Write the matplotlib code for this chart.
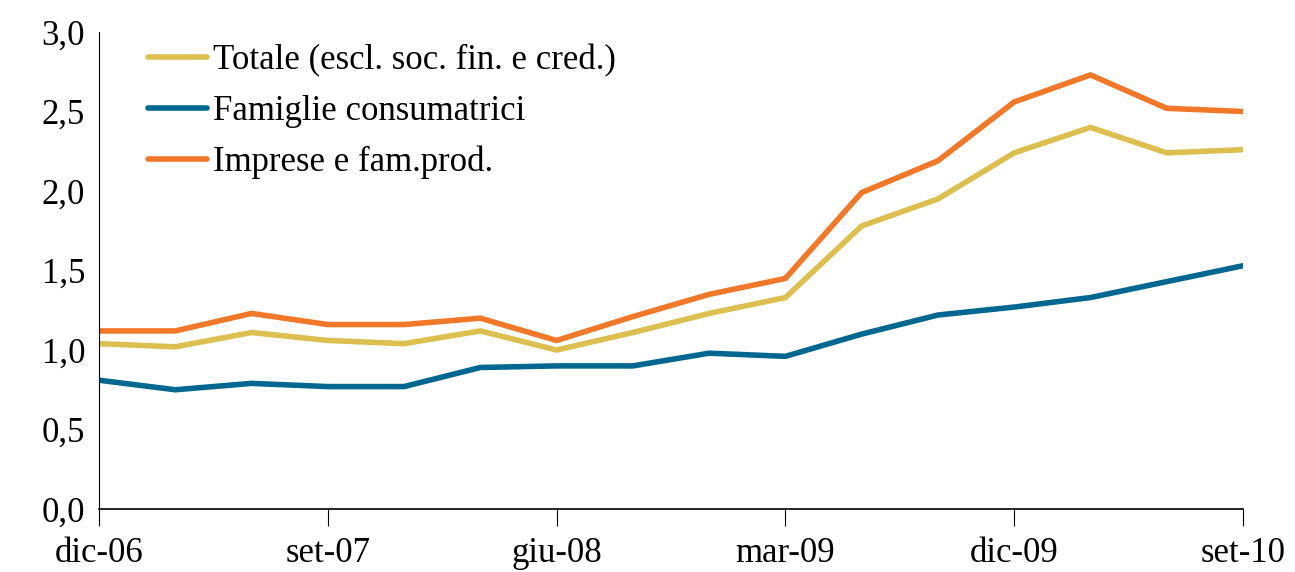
import matplotlib
matplotlib.use("Agg")
import matplotlib.pyplot as plt
import numpy as np

plt.rcParams["font.family"] = ["Liberation Serif", "DejaVu Serif"]

# quarterly observations, dic-06 .. set-10
quarters = ["dic-06", "mar-07", "giu-07", "set-07", "dic-07", "mar-08", "giu-08",
            "set-08", "dic-08", "mar-09", "giu-09", "set-09", "dic-09", "mar-10",
            "giu-10", "set-10"]
totale = [1.04, 1.02, 1.11, 1.06, 1.04, 1.12, 1.00, 1.11, 1.23, 1.33,
          1.78, 1.95, 2.24, 2.40, 2.24, 2.26]
famiglie = [0.81, 0.75, 0.79, 0.77, 0.77, 0.89, 0.90, 0.90, 0.98, 0.96,
            1.10, 1.22, 1.27, 1.33, 1.43, 1.53]
imprese = [1.12, 1.12, 1.23, 1.16, 1.16, 1.20, 1.06, 1.21, 1.35, 1.45,
           1.99, 2.19, 2.56, 2.73, 2.52, 2.50]
yticks = [0.0, 0.5, 1.0, 1.5, 2.0, 2.5, 3.0]

YELLOW = "#DDBF50"
BLUE = "#006890"
ORANGE = "#F07828"

fig = plt.figure(figsize=(12.95, 5.72), dpi=100)
ax = fig.add_axes([99 / 1295, 1 - 509 / 572, (1243 - 99) / 1295, (509 - 32) / 572])

x = np.arange(len(quarters))
lw = 4.0
ax.plot(x, totale, color=YELLOW, lw=lw, solid_capstyle="round", solid_joinstyle="miter",
        label="Totale (escl. soc. fin. e cred.)")
ax.plot(x, famiglie, color=BLUE, lw=lw, solid_capstyle="round", solid_joinstyle="miter",
        label="Famiglie consumatrici")
ax.plot(x, imprese, color=ORANGE, lw=lw, solid_capstyle="round", solid_joinstyle="miter",
        label="Imprese e fam.prod.")

ax.set_xlim(0, len(quarters) - 1)
ax.set_ylim(0, 3.0)
ax.set_xticks(x[::3])
ax.set_xticklabels(quarters[::3])
ax.set_yticks(yticks)
ax.set_yticklabels([("%.1f" % v).replace(".", ",") for v in yticks])

for s in ("top", "right"):
    ax.spines[s].set_visible(False)
ax.spines["left"].set_linewidth(0.8)
ax.spines["bottom"].set_linewidth(1.2)
ax.tick_params(axis="y", length=0, labelsize=25, pad=10)
ax.tick_params(axis="x", direction="out", length=12, width=0.8, labelsize=25, pad=8)

ax.legend(loc="upper left", bbox_to_anchor=(0.031, 1.003), frameon=False, fontsize=25,
          handlelength=1.7, handletextpad=0.15, labelspacing=0.5, borderaxespad=0)

fig.savefig("out.png", dpi=100)
